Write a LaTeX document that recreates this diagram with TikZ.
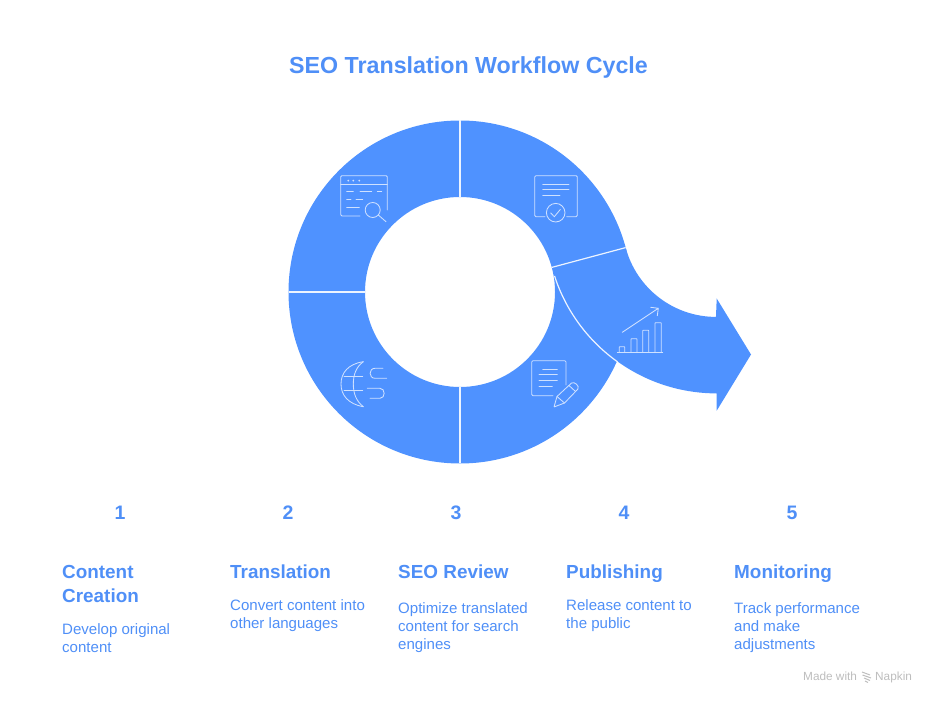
\documentclass[tikz,border=0pt]{standalone}
\usepackage{fontspec}
\usetikzlibrary{calc}
\setmainfont{Liberation Sans}
\definecolor{napblue}{HTML}{4F92FF}
\definecolor{naptext}{HTML}{4F8FF7}
\definecolor{napicon}{HTML}{CFE1FF}
\definecolor{napgrey}{HTML}{BDBDBD}
\tikzset{
  img/.style={shift={(0,704)},yscale=-1},
  icon/.style={draw=napicon,line width=0.85pt,fill=none,rounded corners=1.2pt,line cap=round},
  divider/.style={draw=white!90!napblue,line width=1.2pt},
  titletxt/.style={text=naptext,font=\fontsize{23.25}{28}\selectfont\bfseries,inner sep=0pt},
  numtxt/.style={text=naptext,font=\fontsize{19.5}{24}\selectfont\bfseries,inner sep=0pt},
  headtxt/.style={text=naptext,anchor=north west,align=left,inner sep=0pt,font=\fontsize{18.9}{24}\selectfont\bfseries},
  bodytxt/.style={text=naptext,anchor=north west,align=left,inner sep=0pt,font=\fontsize{15.05}{18}\selectfont},
  marktxt/.style={text=napgrey,anchor=base west,inner sep=0pt,font=\fontsize{11.8}{14}\selectfont},
}
\begin{document}
\begin{tikzpicture}[x=1pt,y=1pt]
\useasboundingbox (0,0) rectangle (936,704);
\coordinate (C) at (460,412);
\coordinate (A) at (716.2,480.6);
% ring
\fill[napblue,even odd rule] (C) circle[radius=171.5pt] (C) circle[radius=95pt];
% arrow
\fill[napblue] ($(C)+(15:95pt)$) -- ($(C)+(15:171.5pt)$)
  arc[start angle=195,end angle=270,radius=93.5pt]
  -- (716.7,405.5) -- (751,349.5) -- (716.7,293.3) -- (716.7,310.6)
  arc[start angle=270,end angle=195,radius=170pt] -- cycle;
% dividers
\draw[divider] ($(C)+(90:95pt)$) -- ($(C)+(90:171.5pt)$);
\draw[divider] ($(C)+(180:95pt)$) -- ($(C)+(180:171.5pt)$);
\draw[divider] ($(C)+(270:95pt)$) -- ($(C)+(270:171.5pt)$);
\draw[divider] ($(C)+(15:95pt)$) -- ($(C)+(15:171.5pt)$);
\draw[divider] ($(A)+(198:170pt)$) arc[start angle=198,end angle=234.5,radius=170pt];
\begin{scope}[img]
% browser icon
\draw[icon] (360,216) -- (340.7,216) -- (340.7,175.7) -- (387.3,175.7) -- (387.3,210);
\draw[icon] (340.7,184) -- (387.3,184);
\fill[napicon] (348.3,180.7) circle[radius=1pt] (353.3,180.7) circle[radius=1pt] (359.3,180.7) circle[radius=1pt];
\draw[icon] (346.7,191.7) -- (353.3,191.7) (360,191.7) -- (371.7,191.7) (377.3,191.7) -- (381.7,191.7)
  (346.7,199.7) -- (351,199.7) (356,199.7) -- (362.7,199.7) (346.7,207.7) -- (359.3,207.7);
\draw[icon] (372.7,210) circle[radius=7.5pt];
\draw[icon] (378.3,215) -- (386,221.7);
% globe icon
\draw[icon,rounded corners=0pt] (363.3,361.7) .. controls (348,364) and (341,373) .. (341,384) .. controls (341,395) and (348,404) .. (363.3,406.7);
\draw[icon,rounded corners=0pt] (363.3,361.7) .. controls (356,367) and (353.3,375) .. (353.3,384) .. controls (353.3,393) and (356,401) .. (363.3,406.7);
\draw[icon] (344,376) -- (362.7,376) (344,390.7) -- (362.7,390.7);
\draw[icon,rounded corners=0pt] (383,368.3) -- (375,368.3) .. controls (368.5,368.3) and (368.5,378.3) .. (375,378.3) -- (386.7,378.3)
  (367.3,388.3) -- (380,388.3) .. controls (385.5,388.3) and (385.5,398.3) .. (380,398.3) -- (370,398.3);
% certificate icon
\draw[icon] (545,216.7) -- (534.7,216.7) -- (534.7,175.7) -- (577.3,175.7) -- (577.3,216.7) -- (566.7,216.7);
\draw[icon] (542.7,184) -- (569,184) (542.7,189.7) -- (569,189.7) (542.7,195.7) -- (560,195.7);
\draw[icon] (555.7,212.7) circle[radius=9.3pt];
\draw[icon,rounded corners=0pt] (550.7,213) -- (554.3,216.7) -- (560.3,209.5);
% document and pen icon
\draw[icon] (553,395.7) -- (531.7,395.7) -- (531.7,360.7) -- (566,360.7) -- (566,385);
\draw[icon] (542.7,369) -- (557.3,369) (539,374.3) -- (557.3,374.3) (539,380) -- (557.3,380) (539,386.3) -- (552.3,386.3);
\draw[icon,rounded corners=0.6pt] (554,407) -- (557,396.5) -- (571,383.5) .. controls (574,381) and (580,386) .. (577.5,389.5) -- (564.5,403) -- cycle;
\draw[icon] (557,396.5) -- (564.5,403) (569,385.5) -- (575.5,391.5);
% chart icon
\draw[icon,rounded corners=0pt] (617.3,352.3) -- (662.7,352.3);
\draw[icon,rounded corners=0.5pt] (619.3,352.3) -- (619.3,346.7) -- (624.7,346.7) -- (624.7,352.3)
  (631,352.3) -- (631,338.7) -- (637,338.7) -- (637,352.3)
  (642.7,352.3) -- (642.7,330.3) -- (648.7,330.3) -- (648.7,352.3)
  (655,352.3) -- (655,322.7) -- (661.3,322.7) -- (661.3,352.3);
\draw[icon,rounded corners=0pt] (622.3,332.3) -- (658.3,308.3) (650.7,307.3) -- (658.3,308.3) -- (657.3,315.7);
% title
\node[titletxt] (title) at (468.5,67.5) {SEO Translation Workflow Cycle};
% numbers
\node[numtxt] (n1) at (120,512.5) {1};
\node[numtxt] (n2) at (288,512.5) {2};
\node[numtxt] (n3) at (456,512.5) {3};
\node[numtxt] (n4) at (624,512.5) {4};
\node[numtxt] (n5) at (792,512.5) {5};
% headings
\node[headtxt] (h1) at (62,561.5) {\strut Content\\Creation};
\node[headtxt] (h2) at (230,561.5) {\strut Translation};
\node[headtxt] (h3) at (398,561.5) {\strut SEO Review};
\node[headtxt] (h4) at (566,561.5) {\strut Publishing};
\node[headtxt] (h5) at (734,561.5) {\strut Monitoring};
% bodies
\node[bodytxt] (b1) at (62,621.5) {\strut Develop original\\content};
\node[bodytxt] (b2) at (230,597.5) {\strut Convert content into\\other languages};
\node[bodytxt] (b3) at (398,600.5) {\strut Optimize translated\\content for search\\engines};
\node[bodytxt] (b4) at (566,597.5) {\strut Release content to\\the public};
\node[bodytxt] (b5) at (734,600.5) {\strut Track performance\\and make\\adjustments};
% watermark
\node[marktxt] (m1) at (803,680) {Made with};
\node[marktxt] (m2) at (875,680) {Napkin};
\draw[napgrey,line width=1pt] (862,672) -- (870,675) (862.5,675) -- (871,678) (864,678) -- (870,680.5) (865,681) -- (868,682.5);
\end{scope}
\end{tikzpicture}
\end{document}
